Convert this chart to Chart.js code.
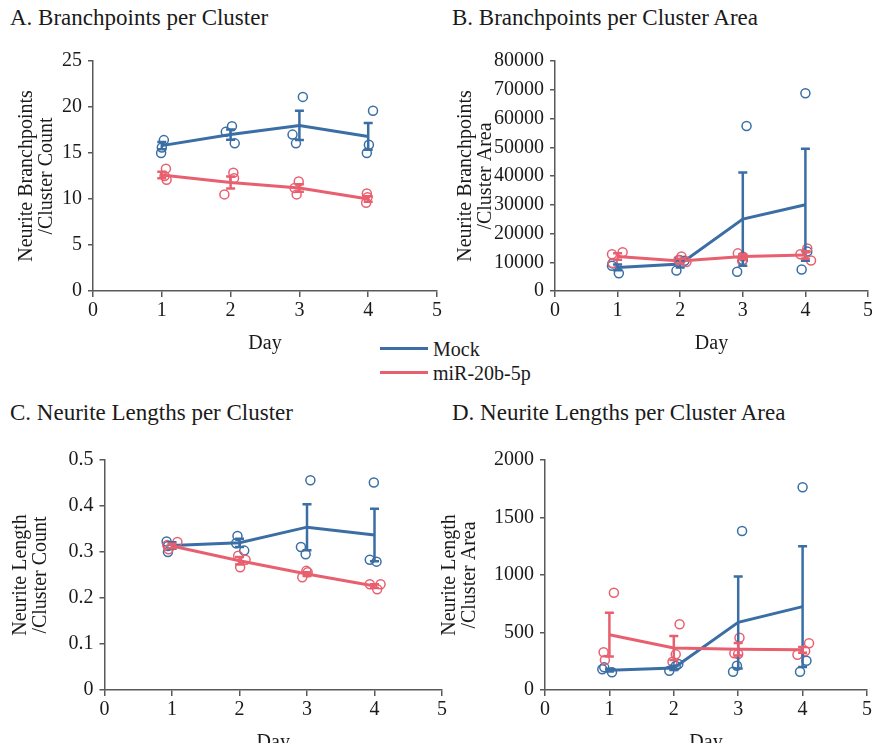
<!DOCTYPE html>
<html><head><meta charset="utf-8">
<script src="https://cdn.jsdelivr.net/npm/chart.js@4"></script>
<style>
html,body{margin:0;padding:0;width:872px;height:743px;overflow:hidden;background:#fff;font-family:"Liberation Serif","Times New Roman",serif;}
canvas{position:absolute;}
.t{position:absolute;font-size:23px;color:#1a1a1a;white-space:nowrap;line-height:23px;}
.lg{position:absolute;font-size:20px;color:#1a1a1a;white-space:nowrap;line-height:20px;}
.ln{position:absolute;height:3px;width:48px;}
</style></head><body>
<div class="t" style="left:10px;top:6px">A. Branchpoints per Cluster</div>
<div class="t" style="left:452px;top:6px">B. Branchpoints per Cluster Area</div>
<div class="t" style="left:10px;top:401px">C. Neurite Lengths per Cluster</div>
<div class="t" style="left:452px;top:401px">D. Neurite Lengths per Cluster Area</div>
<div class="ln" style="left:380px;top:347px;background:#3a6ea5"></div>
<div class="lg" style="left:433px;top:339px">Mock</div>
<div class="ln" style="left:380px;top:371px;background:#e8606f"></div>
<div class="lg" style="left:433px;top:363px">miR-20b-5p</div>
<canvas id="cA" width="457" height="315" style="left:0px;top:41px"></canvas>
<canvas id="cB" width="448" height="315" style="left:440px;top:41px"></canvas>
<canvas id="cC" width="462" height="315" style="left:0px;top:440px"></canvas>
<canvas id="cD" width="447" height="315" style="left:440px;top:440px"></canvas>
<script>
const days = [1, 2, 3, 4];
const xTicks = [0, 1, 2, 3, 4, 5];
const seriesNames = ['Mock', 'miR-20b-5p'];

// Panel A: Branchpoints per Cluster
const yTicksA = [0, 5, 10, 15, 20, 25];
const A_mockMean = [15.8, 17.0, 18.0, 16.8];
const A_mockErr = [0.4, 0.55, 1.6, 1.45];
const A_mirMean = [12.6, 11.8, 11.2, 10.0];
const A_mirErr = [0.35, 0.65, 0.4, 0.3];
const A_mockPtX = [1.03, 1.0, 0.99, 1.93, 2.02, 2.06, 3.05, 2.90, 2.95, 4.07, 4.01, 3.98];
const A_mockPtY = [16.4, 15.6, 15.0, 17.3, 17.9, 16.05, 21.1, 17.0, 16.05, 19.6, 15.9, 15.0];
const A_mirPtX = [1.06, 1.04, 1.07, 2.04, 2.05, 1.91, 2.99, 2.93, 2.96, 3.98, 3.99, 3.97];
const A_mirPtY = [13.3, 12.5, 12.1, 12.85, 12.25, 10.5, 11.9, 11.2, 10.5, 10.6, 10.2, 9.6];

// Panel B: Branchpoints per Cluster Area
const yTicksB = [0, 10000, 20000, 30000, 40000, 50000, 60000, 70000, 80000];
const B_mockMean = [8200, 9400, 25000, 30000];
const B_mockErr = [1000, 1200, 16200, 19500];
const B_mirMean = [12000, 10400, 12000, 12500];
const B_mirErr = [1100, 800, 800, 1300];
const B_mockPtX = [0.92, 0.91, 1.02, 1.94, 1.99, 2.07, 3.06, 2.91, 3.0, 4.0, 3.94, 4.03];
const B_mockPtY = [9600, 8800, 6200, 7100, 10800, 10500, 57400, 6700, 10800, 68800, 7500, 13700];
const B_mirPtX = [0.91, 1.08, 0.92, 2.02, 2.10, 1.97, 2.92, 3.0, 2.99, 4.03, 3.92, 4.09];
const B_mirPtY = [12800, 13500, 9700, 12000, 10100, 10800, 13100, 12000, 10400, 14800, 12800, 10600];

// Panel C: Neurite Lengths per Cluster
const yTicksC = [0, 0.1, 0.2, 0.3, 0.4, 0.5];
const C_mockMean = [0.314, 0.320, 0.354, 0.337];
const C_mockErr = [0.007, 0.009, 0.05, 0.057];
const C_mirMean = [0.313, 0.281, 0.252, 0.226];
const C_mirErr = [0.005, 0.008, 0.004, 0.004];
const C_mockPtX = [0.92, 0.94, 0.94, 1.97, 1.95, 2.07, 3.05, 2.91, 2.98, 3.99, 3.93, 4.03];
const C_mockPtY = [0.323, 0.313, 0.300, 0.335, 0.319, 0.303, 0.456, 0.311, 0.295, 0.451, 0.283, 0.279];
const C_mirPtX = [0.93, 0.95, 1.08, 1.98, 2.09, 2.01, 2.99, 2.93, 3.01, 3.93, 4.09, 4.04];
const C_mirPtY = [0.315, 0.306, 0.322, 0.292, 0.283, 0.267, 0.259, 0.245, 0.256, 0.230, 0.230, 0.219];

// Panel D: Neurite Lengths per Cluster Area
const yTicksD = [0, 500, 1000, 1500, 2000];
const D_mockMean = [172, 192, 588, 725];
const D_mockErr = [12, 18, 400, 525];
const D_mirMean = [481, 365, 354, 350];
const D_mirErr = [190, 105, 55, 25];
const D_mockPtX = [0.89, 0.92, 1.04, 1.93, 2.07, 2.03, 3.06, 2.92, 2.98, 4.0, 3.96, 4.06];
const D_mockPtY = [180, 197, 154, 168, 226, 209, 1383, 159, 211, 1763, 159, 255];
const D_mirPtX = [1.07, 0.91, 0.93, 2.09, 2.03, 1.98, 3.02, 2.94, 3.0, 4.1, 3.92, 4.04];
const D_mirPtY = [846, 328, 261, 571, 310, 246, 455, 319, 313, 406, 307, 339];

const BLUE = '#3a6ea5';
const RED = '#e8606f';
const AX = '#595959';
const TXT = '#1a1a1a';
const FONT = '"Liberation Serif", "Times New Roman", serif';

const errPlugin = {
  id: 'errbars',
  afterDatasetsDraw(chart, args, o) {
    const ctx = chart.ctx, xs = chart.scales.x, ys = chart.scales.y;
    (o.series || []).forEach(s => {
      ctx.save();
      ctx.strokeStyle = s.color;
      ctx.lineWidth = 2.5;
      s.means.forEach((m, i) => {
        const x = xs.getPixelForValue(days[i]);
        const y1 = ys.getPixelForValue(m - s.errs[i]);
        const y2 = ys.getPixelForValue(m + s.errs[i]);
        ctx.beginPath();
        ctx.moveTo(x, y1); ctx.lineTo(x, y2);
        ctx.moveTo(x - 4.5, y1); ctx.lineTo(x + 4.5, y1);
        ctx.moveTo(x - 4.5, y2); ctx.lineTo(x + 4.5, y2);
        ctx.stroke();
      });
      ctx.restore();
    });
  }
};

function pts(xs, ys) { return xs.map((x, i) => ({x: x, y: ys[i]})); }
function meanPts(m) { return days.map((d, i) => ({x: d, y: m[i]})); }

function panel(id, yAxisW, titlePad, yTicks, yTitle, mockMean, mockErr, mirMean, mirErr, mpx, mpy, rpx, rpy) {
  new Chart(document.getElementById(id), {
    type: 'scatter',
    data: {
      datasets: [
        {label: seriesNames[1] + ' pts', data: pts(rpx, rpy), showLine: false, pointRadius: 4.5, pointBorderWidth: 1.5, borderColor: RED, backgroundColor: 'rgba(0,0,0,0)', pointBackgroundColor: 'rgba(0,0,0,0)'},
        {label: seriesNames[1], data: meanPts(mirMean), showLine: true, borderColor: RED, borderWidth: 3, pointRadius: 0, tension: 0},
        {label: seriesNames[0] + ' pts', data: pts(mpx, mpy), showLine: false, pointRadius: 4.5, pointBorderWidth: 1.5, borderColor: BLUE, backgroundColor: 'rgba(0,0,0,0)', pointBackgroundColor: 'rgba(0,0,0,0)'},
        {label: seriesNames[0], data: meanPts(mockMean), showLine: true, borderColor: BLUE, borderWidth: 3, pointRadius: 0, tension: 0}
      ]
    },
    options: {
      responsive: false,
      animation: false,
      layout: {padding: {top: 20, right: 20, left: 0, bottom: 0}},
      plugins: {
        legend: {display: false},
        tooltip: {enabled: false},
        errbars: {series: [
          {means: mockMean, errs: mockErr, color: BLUE},
          {means: mirMean, errs: mirErr, color: RED}
        ]}
      },
      scales: {
        x: {
          type: 'linear', min: xTicks[0], max: xTicks[xTicks.length - 1],
          afterBuildTicks: s => { s.ticks = xTicks.map(v => ({value: v})); },
          ticks: {color: TXT, font: {family: FONT, size: 20}, padding: 2, callback: v => String(v)},
          grid: {drawOnChartArea: false, drawTicks: true, tickLength: 6, color: AX, lineWidth: 1.5},
          border: {color: AX, width: 1.5},
          title: {display: true, text: 'Day', color: TXT, font: {family: FONT, size: 20}, padding: {top: 0, bottom: 0}},
          afterFit: s => { s.height = 65; }
        },
        y: {
          type: 'linear', min: yTicks[0], max: yTicks[yTicks.length - 1],
          afterBuildTicks: s => { s.ticks = yTicks.map(v => ({value: v})); },
          ticks: {color: TXT, font: {family: FONT, size: 20}, padding: 6, callback: v => String(v)},
          grid: {drawOnChartArea: false, drawTicks: true, tickLength: 5, color: AX, lineWidth: 1.5},
          border: {color: AX, width: 1.5},
          title: {display: true, text: yTitle, color: TXT, font: {family: FONT, size: 20, lineHeight: 1.0}, padding: {top: titlePad, bottom: 0}},
          afterFit: s => { s.width = yAxisW; }
        }
      }
    },
    plugins: [errPlugin]
  });
}

panel('cA', 93, 17, yTicksA, ['Neurite Branchpoints', '/Cluster Count'], A_mockMean, A_mockErr, A_mirMean, A_mirErr, A_mockPtX, A_mockPtY, A_mirPtX, A_mirPtY);
panel('cB', 115, 16, yTicksB, ['Neurite Branchpoints', '/Cluster Area'], B_mockMean, B_mockErr, B_mirMean, B_mirErr, B_mockPtX, B_mockPtY, B_mirPtX, B_mirPtY);
panel('cC', 104.5, 11, yTicksC, ['Neurite Length', '/Cluster Count'], C_mockMean, C_mockErr, C_mirMean, C_mirErr, C_mockPtX, C_mockPtY, C_mirPtX, C_mirPtY);
panel('cD', 105, 0, yTicksD, ['Neurite Length', '/Cluster Area'], D_mockMean, D_mockErr, D_mirMean, D_mirErr, D_mockPtX, D_mockPtY, D_mirPtX, D_mirPtY);
</script>
</body></html>
